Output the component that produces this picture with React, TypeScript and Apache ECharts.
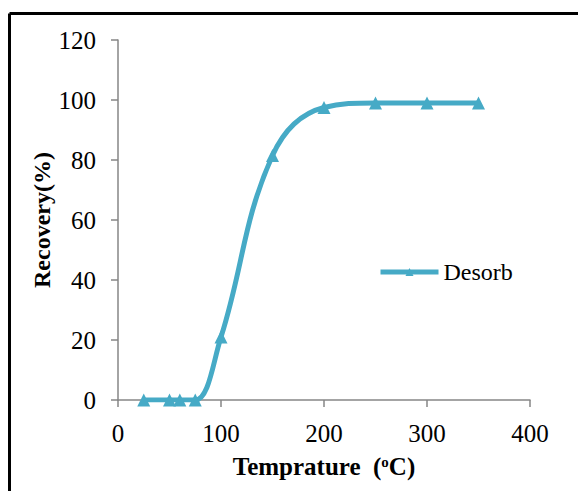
import React, { useEffect, useRef } from "react";
import * as echarts from "echarts";

const temperatures = [25, 50, 60, 75, 100, 150, 200, 250, 300, 350];
const recovery = [0, 0, 0, 0, 21, 81.5, 97.5, 99, 99, 99];
const seriesName = "Desorb";

export default function App() {
  const ref = useRef<HTMLDivElement>(null);
  useEffect(() => {
    const chart = echarts.init(ref.current!, null, { renderer: "svg" });
    const font = "'Liberation Serif', 'Times New Roman', serif";
    chart.setOption({
      animation: false,
      backgroundColor: "#fff",
      textStyle: { fontFamily: font },
      grid: { left: 118, top: 40, width: 412, height: 360, containLabel: false },
      legend: {
        data: [seriesName],
        left: 373,
        top: 255,
        itemWidth: 58,
        itemHeight: 10,
        itemGap: 4,
        lineStyle: { width: 5 },
        textStyle: { fontFamily: font, fontSize: 24, color: "#000", padding: [0, 0, 0, 0] },
      },
      xAxis: {
        type: "value",
        min: 0,
        max: 400,
        interval: 100,
        name: "Temprature  ({sup|o}C)",
        nameLocation: "middle",
        nameGap: 54,
        nameMoveOverlap: false,
        nameTextStyle: {
          fontFamily: font,
          fontSize: 25,
          fontWeight: "bold",
          color: "#000",
          rich: {
            sup: { fontFamily: font, fontSize: 15, fontWeight: "bold", verticalAlign: "top", padding: [0, 0, 10, 0], color: "#000" },
          },
        },
        axisLine: { lineStyle: { color: "#868686", width: 1.5 } },
        axisTick: { show: true, length: 7, lineStyle: { color: "#868686", width: 1.5 } },
        axisLabel: { fontFamily: font, fontSize: 25, color: "#000", margin: 21 },
        splitLine: { show: false },
      },
      yAxis: {
        type: "value",
        min: 0,
        max: 120,
        interval: 20,
        name: "Recovery(%)",
        nameLocation: "middle",
        nameGap: 64,
        nameMoveOverlap: false,
        nameTextStyle: { fontFamily: font, fontSize: 24, fontWeight: "bold", color: "#000" },
        axisLine: { show: true, lineStyle: { color: "#868686", width: 1.5 } },
        axisTick: { show: true, length: 7, lineStyle: { color: "#868686", width: 1.5 } },
        axisLabel: { fontFamily: font, fontSize: 25, color: "#000", margin: 22 },
        splitLine: { show: false },
      },
      series: [
        {
          name: seriesName,
          type: "line",
          data: temperatures.map((t, i) => [t, recovery[i]]),
          smooth: 0.4,
          symbol: "triangle",
          symbolSize: 13,
          lineStyle: { color: "#46aac6", width: 5 },
          itemStyle: { color: "#46aac6" },
        },
      ],
      graphic: [
        { type: "line", shape: { x1: 9.5, y1: 13.5, x2: 578, y2: 13.5 }, style: { stroke: "#000", lineWidth: 3 } },
        { type: "line", shape: { x1: 9.5, y1: 13.5, x2: 9.5, y2: 491 }, style: { stroke: "#000", lineWidth: 3 } },
      ],
    });
    return () => chart.dispose();
  }, []);
  return <div ref={ref} style={{ position: "absolute", left: 0, top: 0, width: 578, height: 491 }} />;
}
